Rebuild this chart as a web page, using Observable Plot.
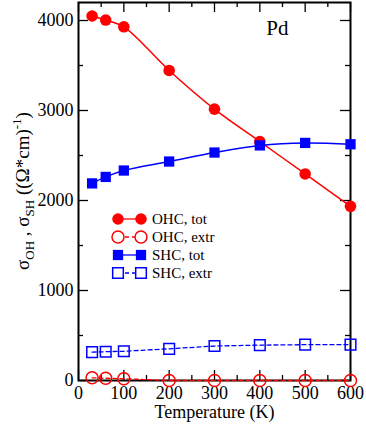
<!DOCTYPE html>
<html><head><meta charset="utf-8">
<script src="https://cdn.jsdelivr.net/npm/d3@7"></script>
<script src="https://cdn.jsdelivr.net/npm/@observablehq/plot@0.6"></script>
<style>html,body{margin:0;padding:0;background:#fff;}
svg, svg text { font-family: "Liberation Serif", "Times New Roman", serif !important; }</style>
</head><body><div id="chart"></div>
<script>
const temps = [30, 60, 100, 200, 300, 400, 500, 600];
const ohcTot = [4050, 4005, 3930, 3445, 3015, 2655, 2295, 1935];
const ohcExtr = [30, 25, 20, 0, 0, 0, 0, 0];
const shcTot = [2190, 2262, 2333, 2433, 2533, 2612, 2640, 2625];
const shcExtr = [315, 320, 325, 352, 383, 393, 398, 398];
const seriesNames = ["OHC, tot", "OHC, extr", "SHC, tot", "SHC, extr"];
const xTickLabels = [0, 100, 200, 300, 400, 500, 600];
const xMinor = [50, 150, 250, 350, 450, 550];
const yTickLabels = [0, 1000, 2000, 3000, 4000];
const yMinor = [500, 1500, 2500, 3500];

const W = 366, H = 424, mL = 78, mR = 16, mT = 2, mB = 44;
const pW = W - mL - mR, pH = H - mT - mB;
const RED = "#ff0000", BLUE = "#0000ff";
const font = "Liberation Serif";

const mk = (vals) => temps.map((t, i) => ({x: t, y: vals[i]}));
const dOT = mk(ohcTot), dOE = mk(ohcExtr), dST = mk(shcTot), dSE = mk(shcExtr);

const majorLen = 10, minorLen = 5;
const chart = Plot.plot({
  width: W, height: H, marginLeft: mL, marginRight: mR, marginTop: mT, marginBottom: mB,
  x: {domain: [0, 600]},
  y: {domain: [0, 4200]},
  style: {fontFamily: font, fontSize: "18px", background: "#fff", color: "#000", overflow: "visible"},
  marks: [
    Plot.tickX(xTickLabels, {x: d => d, insetTop: pH - majorLen, stroke: "#000", strokeWidth: 1.3}),
    Plot.tickX(xTickLabels, {x: d => d, insetBottom: pH - majorLen, stroke: "#000", strokeWidth: 1.3}),
    Plot.tickX(xMinor, {x: d => d, insetTop: pH - minorLen, stroke: "#000", strokeWidth: 1.3}),
    Plot.tickX(xMinor, {x: d => d, insetBottom: pH - minorLen, stroke: "#000", strokeWidth: 1.3}),
    Plot.tickY(yTickLabels, {y: d => d, insetRight: pW - majorLen, stroke: "#000", strokeWidth: 1.3}),
    Plot.tickY(yTickLabels, {y: d => d, insetLeft: pW - majorLen, stroke: "#000", strokeWidth: 1.3}),
    Plot.tickY(yMinor, {y: d => d, insetRight: pW - minorLen, stroke: "#000", strokeWidth: 1.3}),
    Plot.tickY(yMinor, {y: d => d, insetLeft: pW - minorLen, stroke: "#000", strokeWidth: 1.3}),
    Plot.axisX({ticks: xTickLabels, tickSize: 0, tickPadding: 6, label: null, fontSize: 18, fontFamily: font, tickFormat: d => String(d)}),
    Plot.axisY({ticks: yTickLabels, tickSize: 0, tickPadding: 5, label: null, fontSize: 18, fontFamily: font, tickFormat: d => String(d)}),
    Plot.frame({stroke: "#000", strokeWidth: 2}),
    Plot.line(dOE, {x: "x", y: "y", stroke: RED, strokeWidth: 1.3, strokeDasharray: "4,3"}),
    Plot.line(dSE, {x: "x", y: "y", stroke: BLUE, strokeWidth: 1.3, strokeDasharray: "4,3"}),
    Plot.line(dOT, {x: "x", y: "y", stroke: RED, strokeWidth: 1.5, curve: "catmull-rom"}),
    Plot.line(dST, {x: "x", y: "y", stroke: BLUE, strokeWidth: 1.5, curve: "catmull-rom"}),
    Plot.dot(dOE, {x: "x", y: "y", r: 6, stroke: RED, strokeWidth: 1.5, fill: "none"}),
    Plot.dot(dSE, {x: "x", y: "y", r: 6, symbol: "square", stroke: BLUE, strokeWidth: 1.5, fill: "none"}),
    Plot.dot(dOT, {x: "x", y: "y", r: 5.8, fill: RED, stroke: "none"}),
    Plot.dot(dST, {x: "x", y: "y", r: 5.8, symbol: "square", fill: BLUE, stroke: "none"}),
    Plot.text(["Temperature (K)"], {frameAnchor: "bottom", dy: 32, lineAnchor: "middle", fontSize: 18, fontFamily: font, fill: "#000"}),
    Plot.text(["Pd"], {frameAnchor: "top-right", dx: -62, dy: 18, textAnchor: "end", lineAnchor: "top", fontSize: 21, fontFamily: font, fill: "#000"})
  ]
});
document.getElementById("chart").appendChild(chart);

const svg = d3.select(chart);
// y label with subscripts
const yl = svg.append("text")
  .attr("transform", "translate(29,191) rotate(-90)")
  .attr("text-anchor", "middle")
  .attr("font-family", font).attr("font-size", 19).attr("fill", "#000");
yl.append("tspan").text("σ");
yl.append("tspan").attr("dy", 5).attr("font-size", 13).text("OH");
yl.append("tspan").attr("dy", -5).text(" , σ");
yl.append("tspan").attr("dy", 5).attr("font-size", 13).text("SH");
yl.append("tspan").attr("dy", -5).text(" ((Ω*cm)");
yl.append("tspan").attr("dy", -8).attr("font-size", 13).text("-1");
yl.append("tspan").attr("dy", 8).text(")");

// legend
const legend = [
  {name: seriesNames[0], color: RED, shape: d3.symbolCircle, filled: true, dash: null},
  {name: seriesNames[1], color: RED, shape: d3.symbolCircle, filled: false, dash: "4,3"},
  {name: seriesNames[2], color: BLUE, shape: d3.symbolSquare, filled: true, dash: null},
  {name: seriesNames[3], color: BLUE, shape: d3.symbolSquare, filled: false, dash: "4,3"}
];
const lg = svg.append("g");
legend.forEach((e, i) => {
  const y = 219 + i * 18;
  lg.append("line").attr("x1", 118).attr("x2", 141).attr("y1", y).attr("y2", y)
    .attr("stroke", e.color).attr("stroke-width", 1.3).attr("stroke-dasharray", e.dash);
  const r = e.filled ? 5.8 : 6;
  [118, 141].forEach(x => {
    lg.append("path").attr("d", d3.symbol(e.shape, Math.PI * r * r)())
      .attr("transform", `translate(${x},${y})`)
      .attr("fill", e.filled ? e.color : "#fff")
      .attr("stroke", e.filled ? "none" : e.color).attr("stroke-width", 1.5);
  });
  lg.append("text").attr("x", 152).attr("y", y + 5).attr("text-anchor", "start")
    .attr("font-family", font).attr("font-size", 15).attr("fill", "#000").text(e.name);
});
</script>
</body></html>
